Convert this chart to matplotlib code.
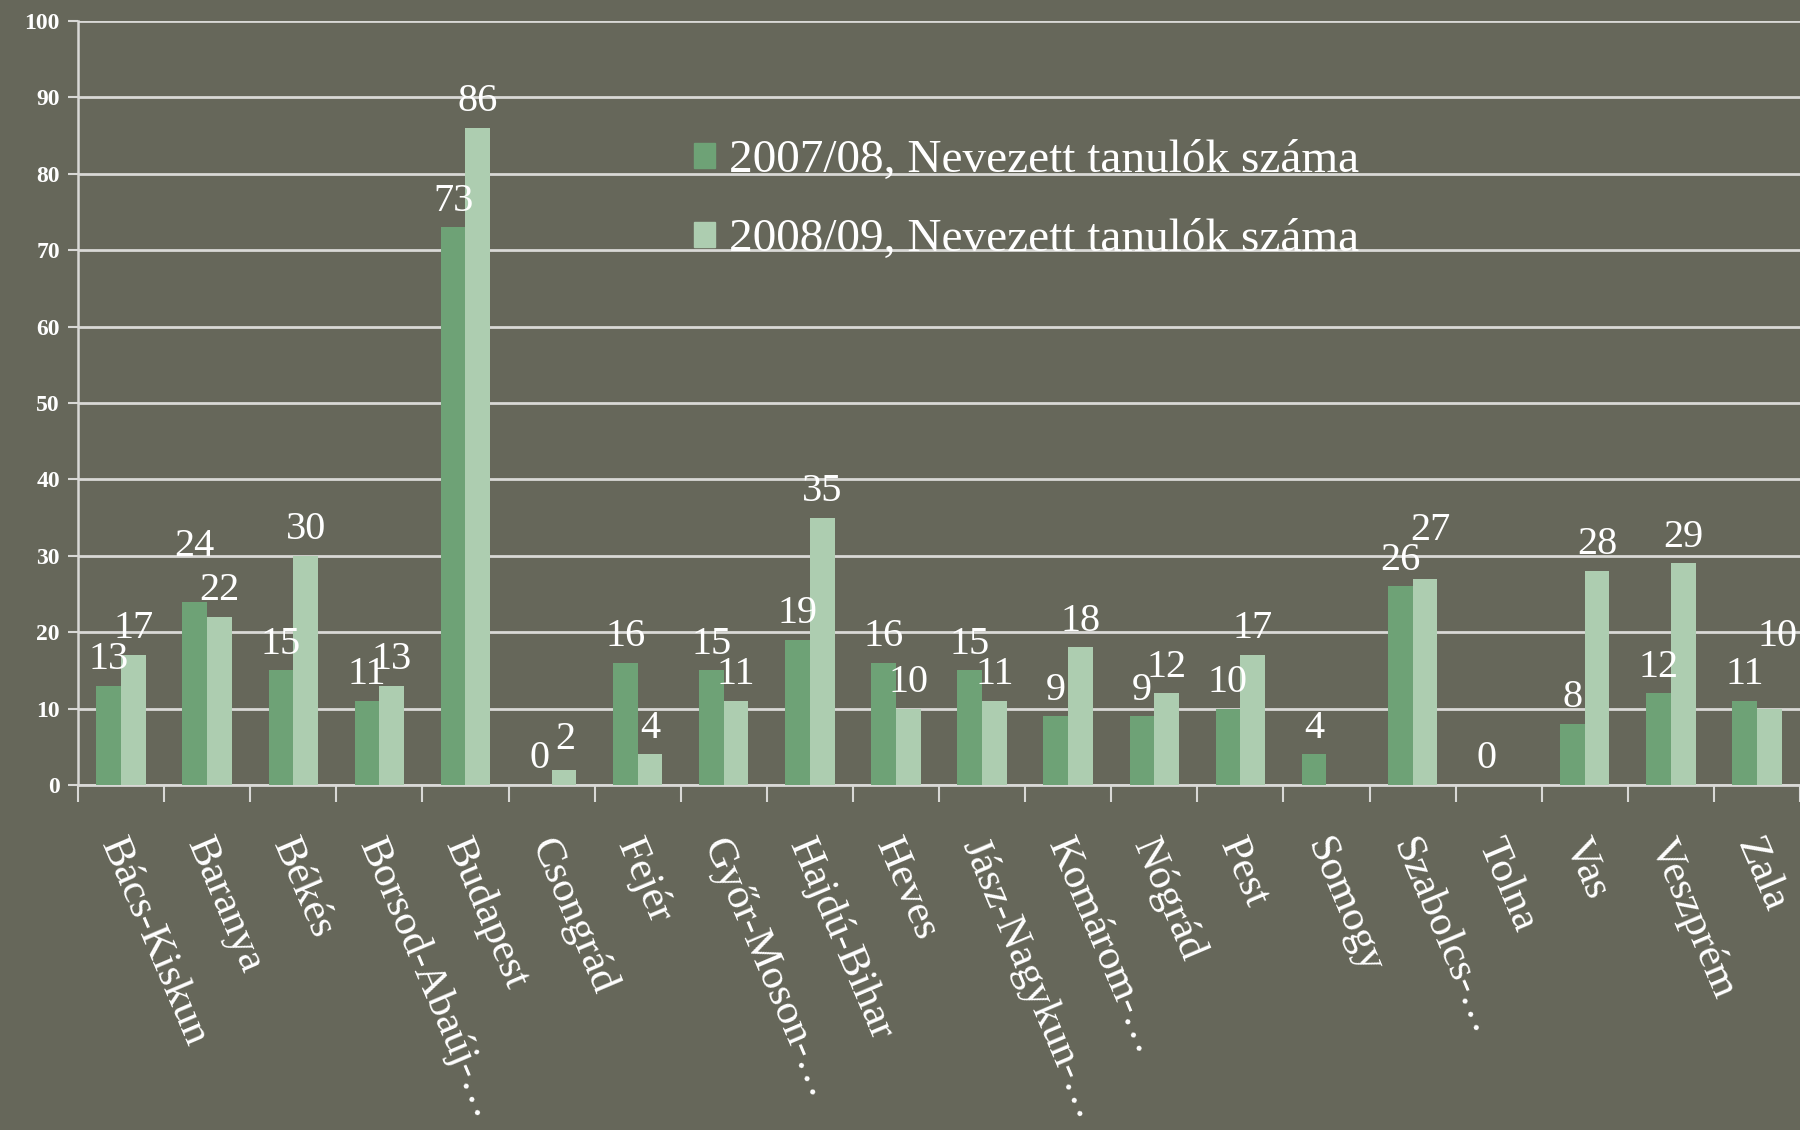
import numpy as np
import matplotlib
matplotlib.use("Agg")
from matplotlib import pyplot as plt
from matplotlib.patches import Patch

# counties (x axis)
counties = ["Bács-Kiskun", "Baranya", "Békés", "Borsod-Abaúj-…", "Budapest",
            "Csongrád", "Fejér", "Győr-Moson-…", "Hajdú-Bihar", "Heves",
            "Jász-Nagykun-…", "Komárom-…", "Nógrád", "Pest", "Somogy",
            "Szabolcs-…", "Tolna", "Vas", "Veszprém", "Zala"]

series_names = ["2007/08, Nevezett tanulók száma",
                "2008/09, Nevezett tanulók száma"]

vals_0708 = [13, 24, 15, 11, 73, 0, 16, 15, 19, 16, 15, 9, 9, 10, 4, 26, 0, 8, 12, 11]
vals_0809 = [17, 22, 30, 13, 86, 2, 4, 11, 35, 10, 11, 18, 12, 17, np.nan, 27, np.nan, 28, 29, 10]

y_ticks = [0, 10, 20, 30, 40, 50, 60, 70, 80, 90, 100]

bg = "#66675a"
c_dark = "#6ea276"
c_light = "#adcdb0"
grid_c = "#d9d9d6"
txt_c = "white"
serif = ["Liberation Serif", "DejaVu Serif", "DejaVu Sans"]

# label nudges (points) where the original moved overlapping labels
nudge = {(0, 1): (0, 21), (1, 5): (1, 3), (1, 15): (4, 16), (1, 19): (6, 33)}

fig = plt.figure(figsize=(18, 11.3), dpi=100, facecolor=bg)
ax = fig.add_axes([78 / 1800, 1 - 785 / 1130, 1 - 78 / 1800, (785 - 21) / 1130])
ax.set_facecolor(bg)

x = np.arange(len(counties))
w = 0.287
b1 = ax.bar(x - w / 2, vals_0708, width=w, color=c_dark, zorder=3)
b2 = ax.bar(x + w / 2, vals_0809, width=w, color=c_light, zorder=3)

# data labels
for s, (bars, vals) in enumerate([(b1, vals_0708), (b2, vals_0809)]):
    for i, (rect, v) in enumerate(zip(bars, vals)):
        if np.isnan(v):
            continue
        dx, dy = nudge.get((s, i), (0, 0))
        ax.annotate(str(int(v)), (rect.get_x() + rect.get_width() / 2, v),
                    xytext=(dx, 12 + dy), textcoords="offset points",
                    ha="center", va="baseline", color=txt_c,
                    fontsize=29, family=serif, zorder=5)

ax.set_xlim(-0.5, len(counties) - 0.5)
ax.set_ylim(0, 100)
ax.set_yticks(y_ticks)
ax.set_yticklabels([str(t) for t in y_ticks], family=serif,
                   fontsize=17, color=txt_c, fontweight="bold")
ax.yaxis.grid(True, color=grid_c, linewidth=2, zorder=0)
ax.tick_params(axis="y", length=7, width=1.5, color=grid_c, pad=6)

# x ticks at category boundaries, labels at centres
ax.set_xticks(np.arange(-0.5, len(counties), 1))
ax.set_xticklabels([])
ax.tick_params(axis="x", which="major", length=12, width=1.5, color=grid_c)
for i, name in enumerate(counties):
    ax.text(i + 0.08, -6.2, name, rotation=-67, rotation_mode="anchor",
            ha="left", va="top", color=txt_c, fontsize=31,
            family=serif, clip_on=False)

for s in ["top", "right"]:
    ax.spines[s].set_visible(False)
ax.spines["left"].set_color(grid_c)
ax.spines["left"].set_linewidth(1.8)
ax.spines["bottom"].set_color(grid_c)
ax.spines["bottom"].set_linewidth(2)

handles = [Patch(color=c_dark), Patch(color=c_light)]
leg = ax.legend(handles, series_names, loc="upper left",
                bbox_to_anchor=(0.333, 0.90), frameon=False,
                prop={"family": serif, "size": 34},
                handlelength=0.44, handleheight=0.44, handletextpad=0.3,
                labelspacing=0.77, labelcolor=txt_c)

fig.savefig("out.png", dpi=100, facecolor=bg)
